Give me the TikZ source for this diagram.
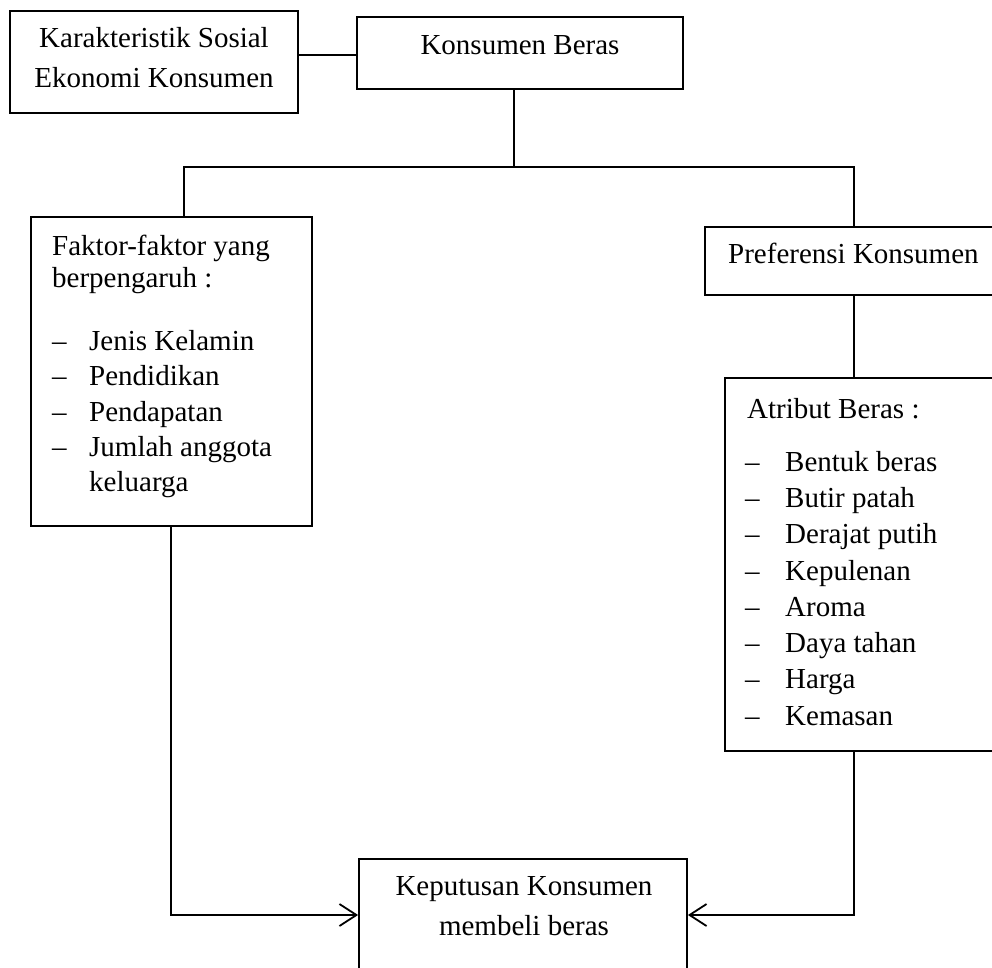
\documentclass[tikz,border=0pt]{standalone}
\usepackage{fontspec}
\setmainfont{Liberation Serif}
\usetikzlibrary{arrows.meta}
\begin{document}
\begin{tikzpicture}[x=1pt,y=-1pt,
  box/.style={draw, line width=1.8pt, inner sep=0pt, rectangle},
  txt/.style={font=\fontsize{29pt}{35pt}\selectfont, inner sep=0pt, anchor=base west},
  ctxt/.style={txt, anchor=base},
  con/.style={line width=1.8pt},
  arr/.style={con, -{Straight Barb[length=17pt,width=22pt,line width=1.8pt]}}]
\clip (0,0) rectangle (992,967);
\fill[white] (0,0) rectangle (992,967);
% boxes
\node[box, line width=1.6pt, minimum width=288pt, minimum height=102pt] (k) at (154,62) {};
\node[box, line width=2.4pt, minimum width=326pt, minimum height=72pt] (kb) at (520,53) {};
\node[box, minimum width=281pt, minimum height=309pt] (f) at (171.5,371.5) {};
\node[box, minimum width=305pt, minimum height=68pt] (p) at (857.5,261) {};
\node[box, minimum width=285pt, minimum height=373pt] (a) at (867.5,564.5) {};
\node[box, minimum width=328pt, minimum height=141pt] (d) at (523,929.5) {};
% texts
\node[ctxt] (kt1) at (154,47) {Karakteristik Sosial};
\node[ctxt] (kt2) at (154,87) {Ekonomi Konsumen};
\node[ctxt] (kbt) at (520,54) {Konsumen Beras};
\node[txt] (ft1) at (52,255) {Faktor-faktor yang};
\node[txt] (ft2) at (52,287) {berpengaruh :};
\foreach \t/\yy [count=\i] in {Jenis Kelamin/350, Pendidikan/385, Pendapatan/421, Jumlah anggota/456}{
  \node[txt] (fd\i) at (52,\yy) {\textendash};
  \node[txt] (fi\i) at (89,\yy) {\t};
}
\node[txt] (fi5) at (89,491) {keluarga};
\node[txt] (pt) at (728,263) {Preferensi Konsumen};
\node[txt] (at) at (747,418) {Atribut Beras :};
\foreach \t/\yy [count=\i] in {Bentuk beras/471, Butir patah/507, Derajat putih/543, Kepulenan/580, Aroma/616, Daya tahan/652, Harga/688, Kemasan/725}{
  \node[txt] (ad\i) at (745,\yy) {\textendash};
  \node[txt] (ai\i) at (785,\yy) {\t};
}
\node[ctxt] (dt1) at (524,895) {Keputusan Konsumen};
\node[ctxt] (dt2) at (524,935) {membeli beras};
% connector coordinates
\coordinate (j1) at (0,55);
\coordinate (hub) at (514,167);
\coordinate (lb) at (184,167);
\coordinate (rb) at (854,167);
\coordinate (lx) at (171,915);
\coordinate (rx) at (854,915);
% connectors
\draw[con] (k.east |- j1) -- (kb.west |- j1);
\draw[con] (kb.south -| hub) -- (hub);
\draw[con] (f.north -| lb) -- (lb) -- (rb) -- (p.north -| rb);
\draw[con] (p.south -| rb) -- (a.north -| rb);
\draw[arr] (f.south -| lx) |- (d.west |- lx);
\draw[arr] (a.south -| rx) |- (d.east |- rx);
\end{tikzpicture}
\end{document}
